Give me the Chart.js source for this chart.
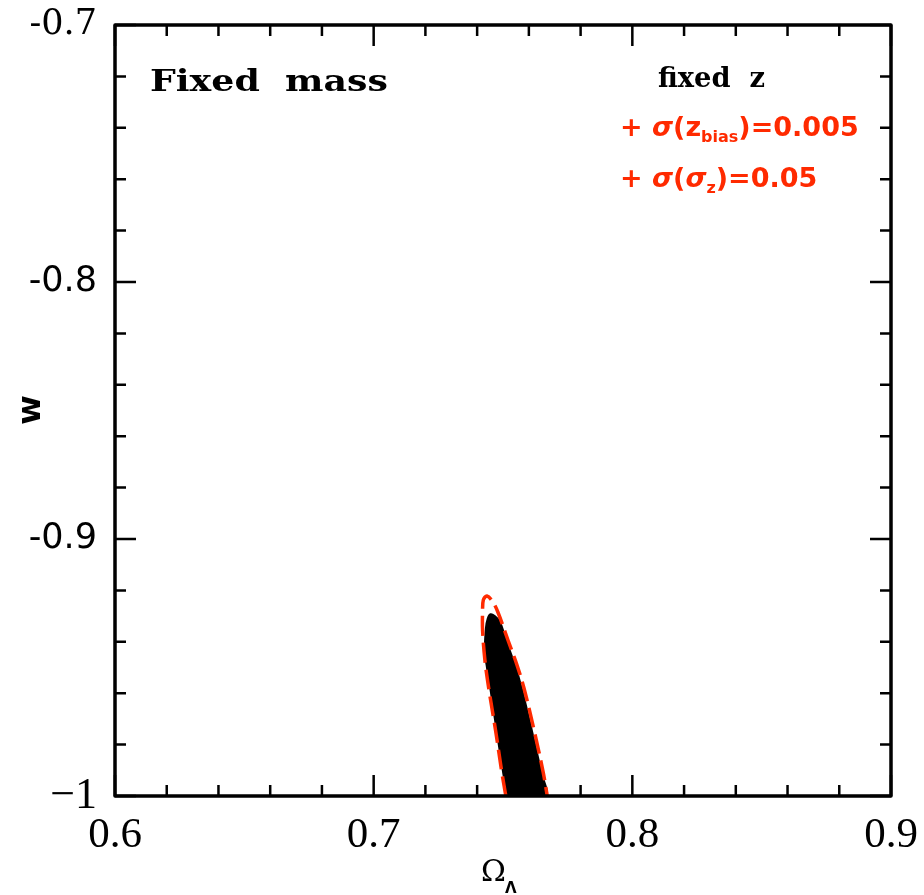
<!DOCTYPE html>
<html>
<head>
<meta charset="utf-8">
<script src="https://cdn.jsdelivr.net/npm/chart.js@4.4.1/dist/chart.umd.min.js"></script>
<style>
  html, body { margin: 0; padding: 0; background: #ffffff; }
  #wrap { width: 924px; height: 895px; }
</style>
</head>
<body>
<div id="wrap"><canvas id="c" width="924" height="895"></canvas></div>
<script>
// ---- axis ticks ----
const xTickValues = [0.6, 0.7, 0.8, 0.9];
const xTickLabels = ['0.6', '0.7', '0.8', '0.9'];
const xMinorTicks = [0.62, 0.64, 0.66, 0.68, 0.72, 0.74, 0.76, 0.78, 0.82, 0.84, 0.86, 0.88];
const yTickValues = [-1, -0.9, -0.8, -0.7];
const yTickLabels = ['\u22121', '-0.9', '-0.8', '-0.7'];
const yMinorTicks = [-0.98, -0.96, -0.94, -0.92, -0.88, -0.86, -0.84, -0.82, -0.78, -0.76, -0.74, -0.72];

// ---- contours (Omega_Lambda, w) ----
// fixed z : filled black contour
const fixedZOmega = [0.7517, 0.7501, 0.7475, 0.7452, 0.7438, 0.7430, 0.7434, 0.7441, 0.7452, 0.7468, 0.7488, 0.7514, 0.7546, 0.7572, 0.7611, 0.7649, 0.7666, 0.7517];
const fixedZW     = [-1.0, -0.9912, -0.9743, -0.9588, -0.9500, -0.9439, -0.9347, -0.9310, -0.9293, -0.9300, -0.9322, -0.9400, -0.9490, -0.9580, -0.9743, -0.9912, -1.0, -1.0];
// + sigma(z_bias)=0.005 + sigma(sigma_z)=0.05 : red dashed contour
const biasOmega = [0.7511, 0.7496, 0.7471, 0.7446, 0.7430, 0.7421, 0.7421, 0.7424, 0.7438, 0.7460, 0.7480, 0.7519, 0.7554, 0.7581, 0.7620, 0.7656, 0.7671];
const biasW     = [-1.0, -0.9911, -0.9743, -0.9588, -0.9471, -0.9354, -0.9284, -0.9237, -0.9222, -0.9244, -0.9284, -0.9393, -0.9490, -0.9580, -0.9743, -0.9911, -1.0];

const RED = '#ff2a00';

function pts(xs, ys) { return xs.map((x, i) => ({ x: x, y: ys[i] })); }

function drawRuns(ctx, runs, x, y) {
  let cx = x;
  for (const r of runs) {
    ctx.font = r[1];
    ctx.fillText(r[0], cx, y + (r[2] || 0));
    cx += ctx.measureText(r[0]).width;
  }
}

function fitText(ctx, text, x, y, font, width) {
  ctx.save();
  ctx.font = font;
  const w = ctx.measureText(text).width;
  ctx.translate(x, y);
  ctx.scale(width / w, 1);
  ctx.fillText(text, 0, 0);
  ctx.restore();
}

const framePlugin = {
  id: 'frame',
  afterDraw(chart) {
    const ctx = chart.ctx;
    const a = chart.chartArea;
    const xs = chart.scales.x, ys = chart.scales.y;
    ctx.save();
    ctx.strokeStyle = '#000';
    ctx.lineCap = 'butt';
    ctx.lineWidth = 2.5;
    const major = 21, minor = 11;
    const tickX = (v, len) => {
      const p = xs.getPixelForValue(v);
      ctx.beginPath();
      ctx.moveTo(p, a.bottom); ctx.lineTo(p, a.bottom - len);
      ctx.moveTo(p, a.top); ctx.lineTo(p, a.top + len);
      ctx.stroke();
    };
    const tickY = (v, len) => {
      const p = ys.getPixelForValue(v);
      ctx.beginPath();
      ctx.moveTo(a.left, p); ctx.lineTo(a.left + len, p);
      ctx.moveTo(a.right, p); ctx.lineTo(a.right - len, p);
      ctx.stroke();
    };
    xTickValues.forEach(v => tickX(v, major));
    xMinorTicks.forEach(v => tickX(v, minor));
    yTickValues.forEach(v => tickY(v, major));
    yMinorTicks.forEach(v => tickY(v, minor));
    ctx.lineWidth = 3.5;
    ctx.lineJoin = 'round';
    ctx.strokeRect(a.left, a.top, a.right - a.left, a.bottom - a.top);

    ctx.fillStyle = '#000';
    ctx.textBaseline = 'alphabetic';
    ctx.textAlign = 'left';
    fitText(ctx, 'Fixed  mass', 150, 91, 'bold 30px "DejaVu Serif"', 238);
    fitText(ctx, 'fixed  z', 658, 87, 'bold 27px "DejaVu Serif"', 107);

    ctx.fillStyle = RED;
    const big = 'bold 27px "DejaVu Sans"';
    const ital = 'italic bold 27px "DejaVu Sans"';
    const sub = 'bold 16px "DejaVu Sans"';
    drawRuns(ctx, [['+ ', big], ['\u03c3', ital], ['(z', big], ['bias', sub, 6], [')=0.005', big]], 620, 136);
    drawRuns(ctx, [['+ ', big], ['\u03c3', ital], ['(', big], ['\u03c3', ital], ['z', sub, 6], [')=0.05', big]], 620, 187);

    ctx.fillStyle = '#000';
    ctx.save();
    ctx.translate(40, 410);
    ctx.rotate(-Math.PI / 2);
    ctx.textAlign = 'center';
    ctx.font = 'bold 32px "DejaVu Sans"';
    ctx.fillText('w', 0, 0);
    ctx.restore();

    ctx.textAlign = 'left';
    ctx.font = '30px "DejaVu Serif"';
    ctx.fillText('\u03a9', 481, 881);
    ctx.font = 'bold 15px "DejaVu Sans"';
    ctx.fillText('\u039b', 505, 893);
    ctx.restore();
  }
};

new Chart(document.getElementById('c'), {
  type: 'line',
  data: {
    datasets: [
      {
        label: '+ \u03c3(z_bias)=0.005 + \u03c3(\u03c3_z)=0.05',
        data: pts(biasOmega, biasW),
        borderColor: RED,
        borderWidth: 3.5,
        borderDash: [20, 7],
        pointRadius: 0,
        fill: false,
        tension: 0.35,
        order: 0
      },
      {
        label: 'fixed z',
        data: pts(fixedZOmega, fixedZW),
        borderColor: '#000',
        backgroundColor: '#000',
        borderWidth: 2,
        pointRadius: 0,
        fill: 'shape',
        tension: 0.3,
        order: 1
      }
    ]
  },
  options: {
    responsive: false,
    animation: false,
    devicePixelRatio: 1,
    layout: { padding: { top: 25, right: 33, left: 0, bottom: 0 } },
    plugins: { legend: { display: false }, tooltip: { enabled: false }, title: { display: false } },
    scales: {
      x: {
        type: 'linear',
        min: 0.6, max: 0.9,
        grid: { display: false, drawTicks: false },
        border: { display: false },
        afterBuildTicks: (axis) => { axis.ticks = xTickValues.map(v => ({ value: v })); },
        afterFit: (axis) => { axis.height = 99; axis.paddingLeft = 0; axis.paddingRight = 0; },
        ticks: {
          autoSkip: false, maxRotation: 0, padding: 14,
          color: '#000',
          font: { family: '"Liberation Serif"', size: 43 },
          callback: (v, i) => xTickLabels[i]
        }
      },
      y: {
        type: 'linear',
        min: -1, max: -0.7,
        grid: { display: false, drawTicks: false },
        border: { display: false },
        afterBuildTicks: (axis) => { axis.ticks = yTickValues.map(v => ({ value: v })); },
        afterFit: (axis) => { axis.width = 115; axis.paddingTop = 0; axis.paddingBottom = 0; },
        ticks: {
          autoSkip: false, padding: 18,
          color: '#000',
          font: (c) => {
            const i = c.index;
            if (i === 0) return { family: '"Liberation Serif"', size: 44 };
            if (i === 3) return { family: '"DejaVu Serif"', size: 35 };
            return { family: '"DejaVu Sans"', size: 35 };
          },
          callback: (v, i) => yTickLabels[i]
        }
      }
    }
  },
  plugins: [framePlugin]
});
</script>
</body>
</html>
